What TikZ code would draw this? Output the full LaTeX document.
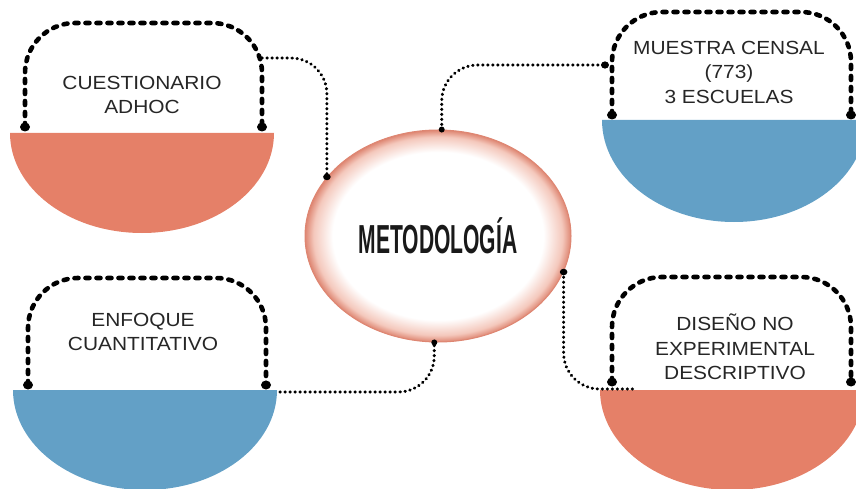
\documentclass[tikz,border=0pt]{standalone}
\usepackage{fontspec}
\setmainfont{Liberation Sans}
\newfontfamily\labfont{Liberation Sans}[FakeStretch=1.1]
\newfontfamily\metafont{Liberation Sans}[FakeStretch=0.52]
\usetikzlibrary{shapes.geometric}
\definecolor{salmon}{HTML}{E58068}
\definecolor{skyblue}{HTML}{63A0C6}
\definecolor{glowmid}{HTML}{F4C8BC}
\definecolor{glowedge}{HTML}{DE8672}
\definecolor{labcol}{HTML}{262626}
\pgfdeclareradialshading{glowshade}{\pgfpoint{0bp}{0bp}}{color(0bp)=(white); color(19.8bp)=(white); color(23.4bp)=(glowmid); color(25bp)=(glowedge); color(50bp)=(glowedge)}
\tikzset{
  dome/.style={draw=black, line width=4.6pt, line cap=round, dash pattern=on 4pt off 7pt, rounded corners=50pt},
  conn/.style={draw=black, line width=3.1pt, line cap=round, dash pattern=on 0.4pt off 4.6pt, rounded corners=36pt},
  label/.style={font=\labfont\fontsize{19}{24.5}\selectfont, text=labcol, align=center, inner sep=0pt},
  enddot/.style={fill=black},
}
\begin{document}
\begin{tikzpicture}[x=1pt,y=-1pt]
\useasboundingbox (0,0) rectangle (856,489);
% half disks
\fill[salmon] (274,133) arc[start angle=0,end angle=180,x radius=132,y radius=100] -- cycle;
\fill[skyblue] (866,120) arc[start angle=0,end angle=180,x radius=132,y radius=102] -- cycle;
\fill[skyblue] (277,390) arc[start angle=0,end angle=180,x radius=132,y radius=100] -- cycle;
\fill[salmon] (864,390) arc[start angle=0,end angle=180,x radius=132,y radius=100] -- cycle;
% dome coordinates
\coordinate (tlL) at (25,127);  \coordinate (tlR) at (262,127);  \coordinate (tlT) at (143.5,23);
\coordinate (trL) at (612,115); \coordinate (trR) at (851,115); \coordinate (trT) at (731.5,12);
\coordinate (blL) at (28,385);  \coordinate (blR) at (266,385);  \coordinate (blT) at (147,278);
\coordinate (brL) at (612,382); \coordinate (brR) at (851,382); \coordinate (brT) at (731.5,277);
% domes
\draw[dome] (tlL) |- (tlT) -| (tlR);
\draw[dome] (trL) |- (trT) -| (trR);
\draw[dome] (blL) |- (blT) -| (blR);
\draw[dome] (brL) |- (brT) -| (brR);
\foreach \p in {tlL,tlR,trL,trR,blL,blR,brL,brR} \fill[enddot] (\p) ellipse (5pt and 4.5pt);
% labels
\node[label] (tlText) at (142,95) {CUESTIONARIO\\ADHOC};
\node[label] (trText) at (729,72) {MUESTRA CENSAL\\(773)\\3 ESCUELAS};
\node[label] (blText) at (143,332) {ENFOQUE\\CUANTITATIVO};
\node[label] (brText) at (735,347) {DISEÑO NO\\EXPERIMENTAL\\DESCRIPTIVO};
% central ellipse
\node[ellipse, minimum width=266pt, minimum height=212pt, inner sep=0pt, shading=glowshade, draw=glowedge, line width=1pt] (m) at (438,236) {\metafont\bfseries\fontsize{40.5}{40}\selectfont\color{black!90} METODOLOGÍA};
% connector ends
\coordinate (tlc) at (262,58);
\coordinate (trc) at (605,65);
\coordinate (blc) at (280,392);
\coordinate (brc) at (637,389);
\draw[conn] (tlc) -| (m.152);
\draw[conn] (m.88) |- (trc);
\draw[conn] (blc) -| (m.268);
\draw[conn] (m.344) |- (brc);
\fill[enddot] (m.152) ellipse (3.8pt and 3.3pt);
\fill[enddot] (m.88) ellipse (3pt and 3pt);
\fill[enddot] (m.268) ellipse (3pt and 3pt);
\fill[enddot] (m.344) ellipse (3.8pt and 3.3pt);
\fill[enddot] (trc) ellipse (4pt and 3.6pt);
\end{tikzpicture}
\end{document}
